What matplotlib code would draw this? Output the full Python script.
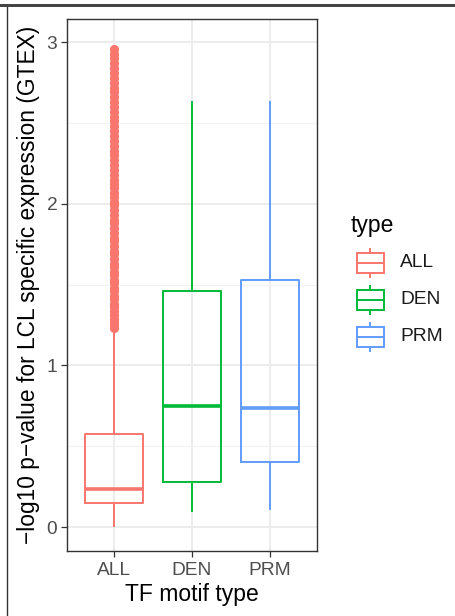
import numpy as np
import matplotlib.pyplot as plt
from matplotlib.patches import Rectangle
from matplotlib.lines import Line2D

plt.rcParams['font.family'] = ['Liberation Sans', 'DejaVu Sans']

# --- data ---
types = ["ALL", "DEN", "PRM"]
colors = ["#F8766D", "#00BA38", "#619CFF"]
q1 = [0.15, 0.276, 0.404]
medians = [0.235, 0.748, 0.734]
q3 = [0.577, 1.46, 1.527]
whisk_lo = [0.006, 0.097, 0.11]
whisk_hi = [1.22, 2.63, 2.63]
all_outliers = [1.23, 1.25, 1.27, 1.29, 1.31, 1.34, 1.36, 1.38, 1.41, 1.43,
                1.46, 1.48, 1.51, 1.53, 1.56, 1.58, 1.61, 1.63, 1.66, 1.69,
                1.71, 1.74, 1.77, 1.79, 1.82, 1.85, 1.88, 1.90, 1.93, 1.96,
                1.99, 2.01, 2.04, 2.07, 2.10, 2.12, 2.15, 2.18, 2.21, 2.24,
                2.27, 2.30, 2.33, 2.36, 2.39, 2.42, 2.45, 2.48, 2.51, 2.54,
                2.57, 2.60, 2.63, 2.66, 2.69, 2.72, 2.75, 2.78, 2.81, 2.84,
                2.87, 2.90, 2.93, 2.96]
outliers = [all_outliers, [], []]
y_ticks = [0, 1, 2, 3]

W, H = 456, 616
fig = plt.figure(figsize=(W / 100, H / 100), dpi=100)

# screenshot frame
fig.add_artist(Rectangle((0, 1 - 7 / H), 1, 3 / H, transform=fig.transFigure,
                         facecolor="#444444", edgecolor="none"))
fig.add_artist(Line2D([7.5 / W, 7.5 / W], [0, 1 - 7 / H], transform=fig.transFigure,
                      color="#333333", lw=1))

ax = fig.add_axes([67 / W, 1 - 551 / H, 250 / W, 532 / H])

stats = []
for i, t in enumerate(types):
    stats.append(dict(label=t, med=medians[i], q1=q1[i], q3=q3[i],
                      whislo=whisk_lo[i], whishi=whisk_hi[i], fliers=outliers[i]))

pos = np.arange(1, len(types) + 1)
res = ax.bxp(stats, positions=pos, widths=0.75, showcaps=False, patch_artist=False,
             zorder=3)
for i, c in enumerate(colors):
    res['boxes'][i].set(color=c, lw=1.4)
    res['medians'][i].set(color=c, lw=2.6, solid_capstyle='butt')
    for w in res['whiskers'][2 * i:2 * i + 2]:
        w.set(color=c, lw=1.4)
    res['fliers'][i].set(marker='o', markersize=5.6, markerfacecolor=c,
                         markeredgecolor=c, alpha=1)

ax.set_xlim(0.4, 3.6)
ax.set_ylim(-0.148, 3.144)
ax.set_xticks(pos)
ax.set_xticklabels(types)
ax.set_yticks(y_ticks)
ax.set_yticks([0.5, 1.5, 2.5], minor=True)
ax.grid(True, which='major', color="#EBEBEB", lw=1.3, zorder=0)
ax.grid(True, which='minor', axis='y', color="#F2F2F2", lw=0.8, zorder=0)
ax.set_axisbelow(True)
for s in ax.spines.values():
    s.set_color("#333333")
    s.set_linewidth(1.0)
ax.tick_params(which='major', length=4.5, width=0.9, color="#333333",
               labelcolor="#4D4D4D", labelsize=13.8, pad=2.5)
ax.tick_params(axis='x', which='major', pad=3.5)
ax.tick_params(which='minor', length=0)

ax.set_xlabel("TF motif type", fontsize=16.5, labelpad=2.5)
ax.set_ylabel("\u2212log10 p\u2212value for LCL specific expression (GTEX)",
              fontsize=16.4, labelpad=5)

# legend drawn by hand, ggplot style keys
leg = fig.add_axes([345 / W, 1 - 360 / H, 100 / W, 150 / H])
leg.set_xlim(345, 445)
leg.set_ylim(360, 210)
leg.axis('off')
leg.text(351, 232, "type", fontsize=16.5, va='baseline', ha='left')
for i, (t, c) in enumerate(zip(types, colors)):
    yc = 263 + 37 * i
    leg.add_patch(Rectangle((357, yc - 10), 27, 20, facecolor='white',
                            edgecolor=c, lw=1.4))
    leg.plot([357, 384], [yc, yc], color=c, lw=1.4)
    leg.plot([370.5, 370.5], [yc - 14, yc - 10], color=c, lw=1.4)
    leg.plot([370.5, 370.5], [yc + 10, yc + 14], color=c, lw=1.4)
    leg.text(400, yc, t, fontsize=13.8, va='center', ha='left', color="#1A1A1A")

fig.savefig("out.png", dpi=100)
